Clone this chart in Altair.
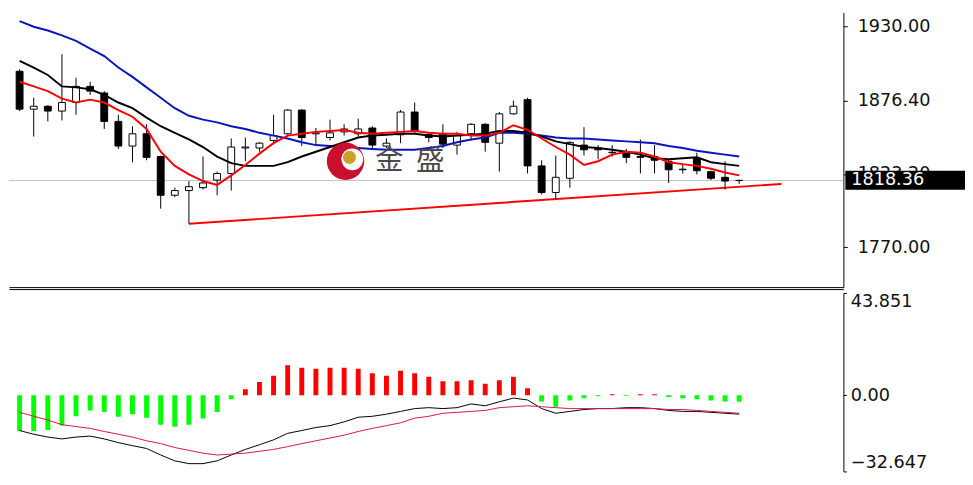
import altair as alt
import pandas as pd

# ---------------- data ----------------
idx = list(range(52))

opens = [1897.7, 1870.2, 1872.3, 1868.8, 1875.0, 1886.7, 1881.9, 1861.3, 1843.4, 1852.3,
         1835.8, 1807.7, 1811.1, 1813.2, 1818.7, 1823.5, 1842.0, 1842.0, 1847.5, 1852.3,
         1869.5, 1852.3, 1849.6, 1853.7, 1852.3, 1856.5, 1843.4, 1851.6, 1868.1, 1851.6,
         1852.3, 1844.1, 1852.3, 1859.2, 1845.5, 1866.8, 1877.1, 1829.0, 1809.7, 1820.0,
         1844.1, 1842.0, 1838.6, 1839.3, 1835.8, 1835.8, 1832.4, 1826.2, 1834.5, 1824.8,
         1820.7, 1818.5]
highs = [1899.1, 1878.5, 1873.0, 1910.1, 1892.9, 1890.1, 1883.3, 1866.1, 1857.8, 1859.2,
         1836.5, 1813.2, 1818.0, 1835.8, 1824.9, 1848.9, 1849.6, 1846.1, 1866.1, 1870.2,
         1870.2, 1856.5, 1862.6, 1859.2, 1863.3, 1857.8, 1848.9, 1869.5, 1875.0, 1853.0,
         1859.2, 1853.7, 1859.9, 1859.9, 1868.1, 1876.4, 1878.5, 1833.1, 1836.5, 1846.8,
         1857.1, 1844.1, 1844.1, 1841.3, 1848.2, 1844.1, 1833.8, 1830.3, 1838.6, 1825.5,
         1832.4, 1819.0]
lows = [1868.8, 1850.3, 1861.3, 1862.0, 1866.1, 1880.5, 1855.8, 1841.3, 1831.7, 1833.1,
        1798.0, 1806.3, 1787.0, 1811.8, 1807.7, 1811.1, 1832.4, 1839.3, 1845.5, 1851.6,
        1843.4, 1844.1, 1847.5, 1851.0, 1850.3, 1842.0, 1842.0, 1845.5, 1853.0, 1846.1,
        1842.0, 1837.2, 1847.5, 1839.3, 1824.9, 1866.1, 1823.5, 1808.3, 1804.9, 1813.2,
        1836.5, 1833.8, 1835.8, 1831.0, 1823.5, 1823.5, 1816.6, 1823.5, 1822.8, 1818.7,
        1811.8, 1815.9]
closes = [1870.2, 1872.3, 1868.8, 1875.0, 1886.7, 1883.3, 1861.3, 1843.4, 1852.3, 1835.2,
          1807.7, 1811.1, 1813.9, 1816.6, 1823.5, 1842.7, 1842.7, 1845.5, 1851.0, 1869.5,
          1849.6, 1853.0, 1853.0, 1855.8, 1855.8, 1844.1, 1845.5, 1868.1, 1854.4, 1849.6,
          1844.8, 1851.0, 1859.2, 1846.1, 1866.8, 1872.3, 1829.0, 1809.7, 1820.7, 1846.1,
          1840.7, 1840.7, 1838.9, 1835.2, 1835.2, 1833.1, 1826.2, 1826.6, 1825.5, 1820.0,
          1818.0, 1818.36]

ma_red = [1890.1, 1886.7, 1883.3, 1877.8, 1875.0, 1877.1, 1875.0, 1869.5, 1864.7, 1855.8,
          1839.3, 1829.0, 1822.8, 1818.0, 1815.2, 1822.1, 1829.7, 1837.9, 1845.5, 1851.0,
          1852.3, 1853.7, 1854.4, 1855.1, 1853.0, 1852.3, 1853.0, 1853.7, 1854.4, 1853.0,
          1852.3, 1852.3, 1851.0, 1851.0, 1853.0, 1858.5, 1855.1, 1848.9, 1842.7, 1837.2,
          1829.7, 1832.4, 1837.2, 1839.3, 1838.6, 1835.8, 1831.7, 1830.3, 1829.0, 1826.9,
          1824.2, 1822.1]
ma_black = [1905.3, 1900.4, 1895.0, 1886.7, 1886.0, 1884.6, 1880.5, 1875.0, 1870.9, 1864.0,
            1857.8, 1853.0, 1848.2, 1842.7, 1835.8, 1831.0, 1829.0, 1829.0, 1829.0, 1831.7,
            1835.8, 1839.3, 1842.7, 1846.2, 1849.6, 1851.0, 1851.6, 1852.3, 1852.3, 1851.0,
            1850.3, 1851.0, 1851.6, 1852.3, 1854.4, 1854.4, 1853.0, 1850.3, 1846.8, 1844.8,
            1842.7, 1842.0, 1840.7, 1839.3, 1837.2, 1834.5, 1833.8, 1834.5, 1835.2, 1831.7,
            1830.3, 1829.0]
ma_blue = [1934.1, 1930.0, 1927.3, 1923.8, 1919.7, 1914.2, 1908.7, 1900.4, 1893.6, 1886.0,
           1878.5, 1870.9, 1865.4, 1862.6, 1860.6, 1857.8, 1855.8, 1853.0, 1851.0, 1848.9,
           1846.2, 1844.1, 1843.4, 1842.7, 1842.0, 1841.3, 1840.7, 1840.7, 1840.7, 1842.0,
           1843.4, 1846.2, 1848.2, 1849.6, 1853.0, 1853.0, 1852.3, 1851.0, 1849.6, 1848.9,
           1848.9, 1848.2, 1847.5, 1846.8, 1846.2, 1845.5, 1843.4, 1842.0, 1840.0, 1838.6,
           1837.2, 1835.8]

hist = [-15.3, -15.3, -14.9, -12.9, -9.0, -6.5, -7.2, -9.2, -8.1, -9.6,
        -12.6, -13.5, -12.6, -9.9, -7.2, -1.7, 2.6, 5.7, 8.4, 12.9,
        11.8, 11.4, 11.8, 11.8, 11.4, 9.5, 8.4, 10.5, 9.5, 8.0,
        6.0, 6.0, 6.5, 5.0, 6.5, 7.9, 3.0, -2.7, -4.9, -2.2,
        -1.3, -0.4, 0.4, -0.3, 0.4, 0.4, -0.7, -1.3, -1.7, -2.2,
        -2.7, -2.8]
macd = [-15.1, -16.7, -17.9, -18.7, -17.9, -17.5, -18.7, -20.3, -21.6, -22.8,
        -25.6, -28.1, -29.3, -29.3, -28.1, -25.6, -23.2, -21.2, -19.1, -16.3,
        -15.1, -13.8, -13.0, -11.4, -9.4, -9.0, -8.1, -6.9, -5.7, -5.3,
        -5.7, -5.3, -3.7, -4.5, -2.8, -1.2, -2.0, -5.7, -7.7, -6.9,
        -6.1, -5.7, -5.7, -5.3, -5.3, -5.7, -6.5, -6.9, -6.9, -7.3,
        -7.7, -8.1]
signal = [-7.3, -9.0, -10.6, -12.6, -13.4, -14.2, -15.5, -16.7, -17.9, -19.5,
          -20.7, -22.4, -23.6, -24.8, -25.6, -25.2, -24.8, -24.0, -23.2, -22.0,
          -20.7, -19.5, -18.3, -17.1, -15.5, -14.2, -13.0, -11.8, -9.8, -9.0,
          -7.7, -7.3, -6.9, -6.5, -5.3, -4.9, -4.5, -4.9, -5.3, -5.7,
          -5.7, -5.7, -5.7, -5.7, -5.7, -5.7, -6.1, -6.1, -6.5, -6.9,
          -7.3, -7.7]

trend_i = [12, 54]
trend_p = [1787.0, 1815.9]

last_price = 1818.36
last_label = "1818.36"
box_lo, box_hi = 1811.6, 1825.4

price_ticks = [1930.0, 1876.4, 1823.2, 1770.0]
price_domain = [1741.0, 1940.31]
macd_ticks = [-32.647, 0.0, 43.851]
macd_domain = [-32.647, 43.851]
x_domain = [-0.405, 58.04]

logo_i = [23.1, 23.58, 23.38]
logo_p = [1832.4, 1833.8, 1835.2]
logo_size = [1452, 490, 177]
logo_color = ["#c8102e", "#ffffff", "#c9a227"]
brand_chars = ["金", "盛"]
brand_i = [26.2, 29.1]
brand_p = [1832.4, 1832.4]

# ---------------- tables ----------------
df = pd.DataFrame({"i": idx, "open": opens, "high": highs, "low": lows, "close": closes,
                   "red": ma_red, "black": ma_black, "blue": ma_blue,
                   "hist": hist, "macd": macd, "signal": signal})
trend_df = pd.DataFrame({"i": trend_i, "p": trend_p})
box_df = pd.DataFrame({"lo": [box_lo], "hi": [box_hi], "p": [last_price], "txt": [last_label]})
logo_df = pd.DataFrame({"i": logo_i, "p": logo_p, "sz": logo_size, "c": logo_color})
brand_df = pd.DataFrame({"i": brand_i, "p": brand_p, "t": brand_chars})
rule_df = pd.DataFrame({"p": [last_price]})

FONT = "DejaVu Sans"
FS = 18
xs = alt.Scale(domain=x_domain, nice=False, zero=False)
ys = alt.Scale(domain=price_domain, nice=False, zero=False)
ms = alt.Scale(domain=macd_domain, nice=False, zero=False)

x_axis_top = alt.Axis(orient="bottom", labels=False, ticks=False, grid=False, title=None,
                      domainColor="black", domainWidth=1)
x_axis_bot = alt.Axis(orient="top", offset=4, labels=False, ticks=False, grid=False, title=None,
                      domainColor="black", domainWidth=1)
y_axis_top = alt.Axis(orient="right", values=price_ticks, format=".2f", title=None, grid=False,
                      tickSize=4, tickColor="black", domainColor="black", labelPadding=10,
                      labelFont=FONT, labelFontSize=FS, labelColor="#111111", labelOverlap=False)
y_axis_bot = alt.Axis(orient="right", values=macd_ticks, title=None, grid=False,
                      labelExpr="datum.value == 0 ? '0.00' : format(datum.value, '.3f')",
                      tickSize=3, tickColor="black", domainColor="black", labelPadding=4,
                      labelFlush=True, labelFont=FONT, labelFontSize=FS, labelColor="#111111",
                      labelOverlap=False)


def X():
    return alt.X("i:Q", scale=xs, axis=x_axis_top)


def Y(f):
    return alt.Y(f"{f}:Q", scale=ys, axis=y_axis_top)


def XB():
    return alt.X("i:Q", scale=xs, axis=x_axis_bot)


def YB(f):
    return alt.Y(f"{f}:Q", scale=ms, axis=y_axis_bot)


base = alt.Chart(df)

gray = alt.Chart(rule_df).mark_rule(color="#c0c0c0", strokeWidth=1).encode(y=Y("p"))
trend = alt.Chart(trend_df).mark_line(color="#ff0000", strokeWidth=2).encode(x=X(), y=Y("p"))
wick = base.mark_rule(color="black", strokeWidth=1).encode(x=X(), y=Y("low"), y2="high")
body = base.mark_bar(width=7, stroke="black", strokeWidth=1, clip=True).encode(
    x=X(), y=Y("open"), y2="close",
    fill=alt.condition("datum.close >= datum.open", alt.value("white"), alt.value("black")))
l_blue = base.mark_line(color="#0a14c0", strokeWidth=2).encode(x=X(), y=Y("blue"))
l_black = base.mark_line(color="black", strokeWidth=2).encode(x=X(), y=Y("black"))
l_red = base.mark_line(color="#ff0000", strokeWidth=2).encode(x=X(), y=Y("red"))
logo = alt.Chart(logo_df).mark_point(filled=True, shape="circle", opacity=1, strokeWidth=0).encode(
    x=X(), y=Y("p"), size=alt.Size("sz:Q", scale=None), color=alt.Color("c:N", scale=None))
brand = alt.Chart(brand_df).mark_text(font="Noto Sans CJK SC", fontSize=29, color="#4a4a4a",
                                      align="center", baseline="middle").encode(
    x=X(), y=Y("p"), text="t:N")
box = alt.Chart(box_df).mark_rect(color="black").encode(
    x=alt.value(853), x2=alt.value(975), y=Y("lo"), y2="hi")
box_txt = alt.Chart(box_df).mark_text(align="left", baseline="middle", color="white",
                                      font=FONT, fontSize=FS).encode(
    x=alt.value(859), y=Y("p"), text="txt:N")

top = alt.layer(gray, trend, wick, body, l_blue, l_black, l_red, logo, brand, box, box_txt).properties(
    width=851, height=280)

bars = base.mark_bar(width=5, clip=True).encode(
    x=XB(), y=YB("hist"), y2=alt.datum(0),
    color=alt.condition("datum.hist >= 0", alt.value("#ff0000"), alt.value("#00ff00")))
m_line = base.mark_line(color="black", strokeWidth=1).encode(x=XB(), y=YB("macd"))
s_line = base.mark_line(color="#dc143c", strokeWidth=1).encode(x=XB(), y=YB("signal"))

bottom = alt.layer(bars, m_line, s_line).properties(width=851, height=182)

chart = alt.vconcat(top, bottom, spacing=6, bounds="flush").properties(
    padding=0, background="white"
).configure_view(strokeWidth=0)

chart.save("out.html", embed_options={"renderer": "svg", "actions": False})
